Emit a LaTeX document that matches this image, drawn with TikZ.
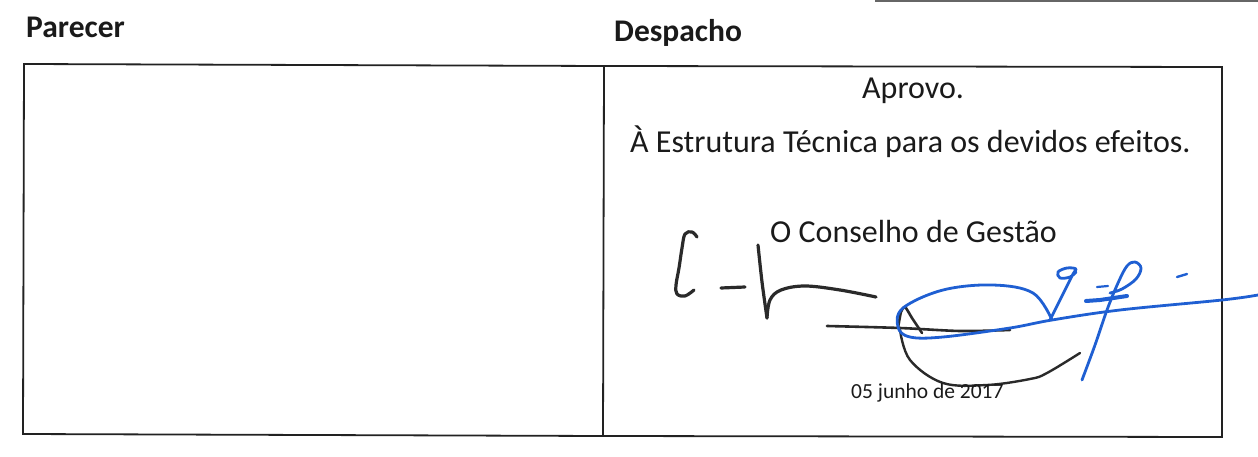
\documentclass[tikz,border=0pt]{standalone}
\usepackage{fontspec}
\setmainfont{Carlito}
\definecolor{inkblack}{HTML}{2A2A2A}
\definecolor{inkblue}{HTML}{1F5FD2}
\definecolor{txt}{HTML}{1A1A1A}
\definecolor{rule}{HTML}{222222}
\tikzset{
  hdr/.style={anchor=base west, inner sep=0pt, text=txt, font=\fontsize{31.5}{37}\selectfont\bfseries},
  body/.style={anchor=base west, inner sep=0pt, text=txt, font=\fontsize{32}{38}\selectfont},
  small/.style={anchor=base west, inner sep=0pt, text=txt, font=\fontsize{21.5}{26}\selectfont},
  border/.style={draw=rule, line width=1.8pt},
  blk/.style={draw=inkblack, line width=3.2pt, line cap=round, line join=round},
  blu/.style={draw=inkblue, line width=2.8pt, line cap=round, line join=round}
}
\begin{document}
\begin{tikzpicture}[x=1pt,y=-1pt]
\useasboundingbox (0,0) rectangle (1258,457);
% scan artefact line at top
\draw[draw=black!60, line width=1.2pt] (875,1) -- (1258,1);
% table
\coordinate (tl) at (24,64);
\coordinate (tm) at (604,66);
\coordinate (tr) at (1222,67);
\coordinate (br) at (1222,437);
\coordinate (bm) at (603,436);
\coordinate (bl) at (23,434);
\draw[border] (tl) -- (tm) -- (tr) -- (br) -- (bm) -- (bl) -- cycle;
\draw[border] (tm) -- (bm);
% headers
\node[hdr] (parecer) at (26,38) {Parecer};
\node[hdr] (despacho) at (614,42) {Despacho};
% body text
\node[body] (aprovo) at (862,99) {Aprovo.};
\node[body] (estrutura) at (630,153) {À Estrutura Técnica para os devidos efeitos.};
\node[body] (conselho) at (770,243) {O Conselho de Gestão};
% black signature
\draw[blk] plot[smooth, tension=0.6] coordinates {(697,237) (692,232) (685,234) (682,248) (679,268) (676,285) (677,294) (685,296) (694,290)};
\draw[blk] (721,288) -- (745,287);
\draw[blk] plot[smooth, tension=0.5] coordinates {(758,245) (762,282) (767,318)};
\draw[blk] plot[smooth, tension=0.6] coordinates {(767,318) (770,300) (781,290) (805,286) (840,290) (876,297)};
\draw[blk, line width=2.6pt] plot[smooth, tension=0.5] coordinates {(827,326) (900,328) (960,331) (1010,330)};
\draw[blk, line width=2.6pt] plot[smooth, tension=0.4] coordinates {(898,328) (901,312) (905,307) (912,318) (922,333)};
\draw[blk, line width=2.4pt] plot[smooth, tension=0.6] coordinates {(900,330) (910,360) (943,383) (987,385) (1030,379) (1047,373) (1080,353)};
% blue signature
\draw[blu] plot[smooth, tension=0.6] coordinates {(1052,320) (1033,293) (993,285) (943,290) (903,308) (898,327) (910,337) (943,337) (1010,328) (1052,320) (1120,310) (1222,300) (1258,295)};
\draw[blu] plot[smooth, tension=0.6] coordinates {(1050,320) (1062,296) (1073,274) (1076,269) (1067,268) (1058,272) (1060,278) (1070,277) (1076,272)};
\draw[blu] plot[smooth, tension=0.6] coordinates {(1082,380) (1095,345) (1107,310) (1118,283) (1127,266) (1135,262) (1141,268) (1136,279) (1122,289) (1110,293)};
\draw[blu, line width=4pt] (1086,301) -- (1100,300) -- (1127,296);
\draw[blu, line width=2.2pt] (1097,287) -- (1108,286);
\draw[blu, line width=2.4pt] (1177,277) -- (1187,274);
% date
\node[small] (data) at (851,398) {05 junho de 2017};
\end{tikzpicture}
\end{document}
